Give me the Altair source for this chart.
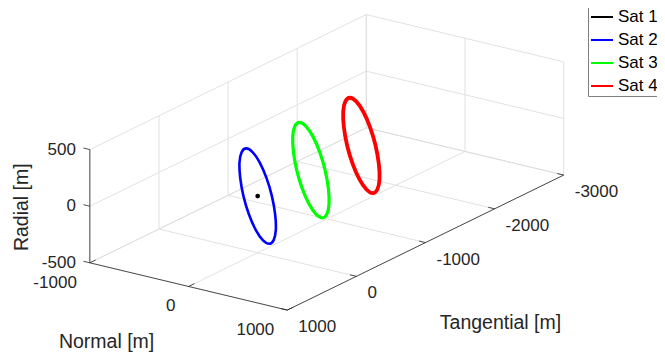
import altair as alt
import pandas as pd

# ---------------- data (metres) ----------------
SATS = ["Sat 1", "Sat 2", "Sat 3", "Sat 4"]
COLORS = ["#000000", "#0000ff", "#00ff00", "#ff0000"]

# shape of one relative-orbit loop (normal / radial offsets around its centre)
LOOP_NORMAL = [-116, -52, 20, 89, 144, 177, 184, 162, 116, 52, -20, -89, -144, -177, -184, -162]
LOOP_RADIAL = [397, 378, 302, 179, 30, -125, -260, -355, -397, -378, -302, -179, -30, 125, 260, 355]
# tangential position of each loop centre
LOOP_SATS = ["Sat 2", "Sat 3", "Sat 4"]
LOOP_CENTER_T = [0, -770, -1500]
# Sat 1 (reference satellite) position
SAT1_N, SAT1_T, SAT1_R = [0], [0], [0]

# axes
N_TICKS = [-1000, 0, 1000]
T_TICKS = [1000, 0, -1000, -2000, -3000]
R_TICKS = [-500, 0, 500]
N_LABELS = ["-1000", "0", "1000"]
T_LABELS = ["1000", "0", "-1000", "-2000", "-3000"]
R_LABELS = ["-500", "0", "500"]

# ---------------- view / style ----------------
AZ, EL = 125, 20          # view angles (deg)
X_DOMAIN = [-2072, 3314]  # projected extents shown
Y_DOMAIN = [-1294, 1561]
W, H = 649, 344
FONT = "Liberation Sans"
TXT = "#262626"
GRID = "#dedede"
N_MIN, N_MAX = min(N_TICKS), max(N_TICKS)
T_FRONT, T_BACK = max(T_TICKS), min(T_TICKS)
R_MIN, R_MAX = min(R_TICKS), max(R_TICKS)
TICK_LEN = 65


def proj(n, t, r, sx="px", sy="py"):
    a = f"({AZ}*PI/180)"
    e = f"({EL}*PI/180)"
    return {
        sx: f"cos({a})*datum.{t} + sin({a})*datum.{n}",
        sy: f"-sin({e})*sin({a})*datum.{t} + sin({e})*cos({a})*datum.{n} + cos({e})*datum.{r}",
    }


xs = alt.Scale(domain=X_DOMAIN, nice=False, zero=False)
ys = alt.Scale(domain=Y_DOMAIN, nice=False, zero=False)
X = alt.X("px:Q", scale=xs, axis=None)
Y = alt.Y("py:Q", scale=ys, axis=None)


def seg(n1, t1, r1, n2, t2, r2):
    return dict(N1=n1, T1=t1, R1=r1, N2=n2, T2=t2, R2=r2)


# grid lines on the three back planes
grid_rows = []
for t in T_TICKS:
    grid_rows.append(seg(N_MIN, t, R_MIN, N_MIN, t, R_MAX))
    grid_rows.append(seg(N_MIN, t, R_MIN, N_MAX, t, R_MIN))
for r in R_TICKS:
    grid_rows.append(seg(N_MIN, T_FRONT, r, N_MIN, T_BACK, r))
    grid_rows.append(seg(N_MIN, T_BACK, r, N_MAX, T_BACK, r))
for n in N_TICKS:
    grid_rows.append(seg(n, T_BACK, R_MIN, n, T_BACK, R_MAX))
    grid_rows.append(seg(n, T_FRONT, R_MIN, n, T_BACK, R_MIN))
grid_df = pd.DataFrame(grid_rows)

# axis lines and tick marks
axis_rows = [
    seg(N_MIN, T_FRONT, R_MIN, N_MIN, T_FRONT, R_MAX),
    seg(N_MIN, T_FRONT, R_MIN, N_MAX, T_FRONT, R_MIN),
    seg(N_MAX, T_FRONT, R_MIN, N_MAX, T_BACK, R_MIN),
]
for r in R_TICKS:
    axis_rows.append(seg(N_MIN, T_FRONT, r, N_MIN - TICK_LEN, T_FRONT, r))
for n in N_TICKS:
    axis_rows.append(seg(n, T_FRONT, R_MIN, n, T_FRONT - TICK_LEN * 1.3, R_MIN))
for t in T_TICKS:
    axis_rows.append(seg(N_MAX, t, R_MIN, N_MAX - TICK_LEN, t, R_MIN))
axis_df = pd.DataFrame(axis_rows)


def rules(df, color, width):
    calc = {}
    calc.update(proj("N1", "T1", "R1", "px", "py"))
    calc.update(proj("N2", "T2", "R2", "px2", "py2"))
    return (
        alt.Chart(df)
        .transform_calculate(**calc)
        .mark_rule(color=color, strokeWidth=width)
        .encode(x=X, y=Y, x2=alt.X2("px2"), y2=alt.Y2("py2"))
    )


grid = rules(grid_df, GRID, 0.9)
axes = rules(axis_df, TXT, 0.8)

# loops
loop_rows = []
for sat, tc in zip(LOOP_SATS, LOOP_CENTER_T):
    for i, (n, r) in enumerate(zip(LOOP_NORMAL, LOOP_RADIAL)):
        loop_rows.append(dict(sat=sat, idx=i, N=n, T=tc, R=r))
loop_df = pd.DataFrame(loop_rows)

legend = alt.Legend(
    orient="none", legendX=580, legendY=-5, title=None,
    symbolType="stroke", symbolSize=484, symbolStrokeWidth=2,
    labelFont=FONT, labelFontSize=17, labelColor="#000000", labelOffset=4,
    padding=2, rowPadding=3, strokeColor="#808080", fillColor="white",
)
loops = (
    alt.Chart(loop_df)
    .transform_calculate(**proj("N", "T", "R"))
    .mark_line(interpolate="cardinal-closed")
    .encode(
        x=X, y=Y,
        color=alt.Color("sat:N", scale=alt.Scale(domain=SATS, range=COLORS), legend=legend),
        strokeWidth=alt.StrokeWidth("sat:O", scale=alt.Scale(domain=LOOP_SATS, range=[2.6, 3.8, 3.6]), legend=None),
        order="idx:Q",
    )
)

sat1 = (
    alt.Chart(pd.DataFrame({"N": SAT1_N, "T": SAT1_T, "R": SAT1_R}))
    .transform_calculate(**proj("N", "T", "R"))
    .mark_point(filled=True, color="#000000", size=22, opacity=1)
    .encode(x=X, y=Y)
)


def labels(df, align, dx, dy, size=17, angle=0):
    return (
        alt.Chart(df)
        .transform_calculate(**proj("N", "T", "R"))
        .mark_text(font=FONT, fontSize=size, color=TXT, align=align, baseline="middle",
                   dx=dx, dy=dy, angle=angle)
        .encode(x=X, y=Y, text="lab:N")
    )


r_lab = labels(pd.DataFrame({"N": N_MIN, "T": T_FRONT, "R": R_TICKS, "lab": R_LABELS}), "right", -14, 0)
n_lab = labels(pd.DataFrame({"N": N_TICKS, "T": T_FRONT, "R": R_MIN, "lab": N_LABELS}), "right", -13, 20)
t_lab = labels(pd.DataFrame({"N": N_MAX, "T": T_TICKS, "R": R_MIN, "lab": T_LABELS}), "left", 11, 17)

title_n = labels(pd.DataFrame({"N": [0], "T": [T_FRONT], "R": [R_MIN], "lab": ["Normal [m]"]}), "center", -82, 56, 19.5)
title_t = labels(pd.DataFrame({"N": [N_MAX], "T": [-1000], "R": [R_MIN], "lab": ["Tangential [m]"]}), "center", 75, 80, 19.5)
title_r = labels(pd.DataFrame({"N": [N_MIN], "T": [T_FRONT], "R": [0], "lab": ["Radial [m]"]}), "center", -1, -68, 19.5, 270)

chart = (
    alt.layer(grid, axes, loops, sat1, r_lab, n_lab, t_lab, title_n, title_t, title_r)
    .properties(width=W, height=H, padding=0, autosize="none", background="white")
    .configure_view(stroke=None)
)

chart.save("out.html", embed_options={"renderer": "svg", "actions": False})
